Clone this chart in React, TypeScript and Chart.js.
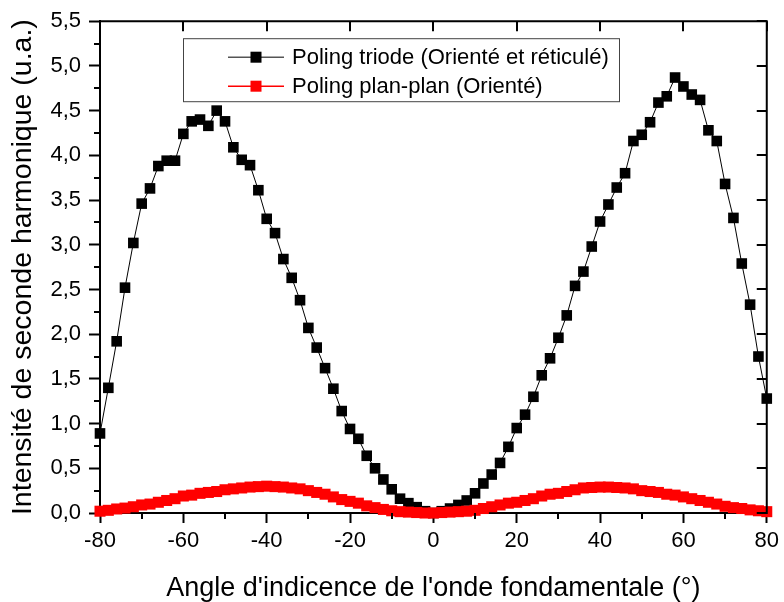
import React, { useEffect, useRef } from 'react';
import { Chart, registerables } from 'chart.js';

Chart.register(...registerables);

const angles = [
  -80, -78, -76, -74, -72, -70, -68, -66, -64, -62, -60, -58, -56, -54, -52, -50, -48, -46, -44, -42,
  -40, -38, -36, -34, -32, -30, -28, -26, -24, -22, -20, -18, -16, -14, -12, -10, -8, -6, -4, -2,
  0, 2, 4, 6, 8, 10, 12, 14, 16, 18, 20, 22, 24, 26, 28, 30, 32, 34, 36, 38,
  40, 42, 44, 46, 48, 50, 52, 54, 56, 58, 60, 62, 64, 66, 68, 70, 72, 74, 76, 78, 80,
];

const triodeValues = [
  0.89, 1.40, 1.92, 2.52, 3.02, 3.46, 3.63, 3.88, 3.94, 3.94, 4.24, 4.38, 4.40, 4.33, 4.50, 4.38, 4.09, 3.95, 3.89, 3.61,
  3.29, 3.13, 2.84, 2.63, 2.38, 2.07, 1.85, 1.62, 1.39, 1.14, 0.94, 0.83, 0.64, 0.50, 0.375, 0.265, 0.16, 0.11, 0.065, 0.02,
  0.0, 0.02, 0.05, 0.09, 0.14, 0.22, 0.33, 0.43, 0.56, 0.74, 0.95, 1.10, 1.30, 1.54, 1.73, 1.96, 2.21, 2.54, 2.70, 2.98,
  3.26, 3.45, 3.64, 3.80, 4.16, 4.23, 4.37, 4.59, 4.66, 4.87, 4.77, 4.68, 4.62, 4.28, 4.16, 3.68, 3.30, 2.79, 2.33, 1.75, 1.28,
];

const planValues = [
  0.02, 0.03, 0.045, 0.055, 0.07, 0.09, 0.10, 0.12, 0.14, 0.16, 0.19, 0.20, 0.22, 0.23, 0.24, 0.26, 0.27, 0.28, 0.29, 0.295,
  0.30, 0.295, 0.29, 0.28, 0.27, 0.25, 0.23, 0.21, 0.18, 0.15, 0.13, 0.11, 0.08, 0.06, 0.04, 0.025, 0.015, 0.01, 0.005, 0.0,
  0.0, 0.005, 0.01, 0.015, 0.02, 0.03, 0.05, 0.07, 0.09, 0.11, 0.12, 0.14, 0.16, 0.19, 0.21, 0.22, 0.24, 0.26, 0.28, 0.285,
  0.29, 0.29, 0.285, 0.28, 0.27, 0.25, 0.24, 0.23, 0.21, 0.20, 0.18, 0.16, 0.14, 0.12, 0.10, 0.075, 0.06, 0.05, 0.035, 0.025, 0.015,
];

const seriesLabels = ['Poling triode (Orienté et réticulé)', 'Poling plan-plan (Orienté)'];
const xTitle = "Angle d'indicence de l'onde fondamentale (°)";
const yTitle = 'Intensité de seconde harmonique (u.a.)';

const FONT = "'Liberation Sans', Arial, sans-serif";

const framePlugin = {
  id: 'frameAndLegend',
  afterDraw(chart: any) {
    const { ctx, chartArea } = chart;
    const xs = chart.scales.x;
    const ys = chart.scales.y;
    ctx.save();
    ctx.strokeStyle = '#000';
    ctx.lineWidth = 2;
    // top & right frame lines
    ctx.beginPath();
    ctx.moveTo(chartArea.left - 1, chartArea.top);
    ctx.lineTo(chartArea.right + 1, chartArea.top);
    ctx.moveTo(chartArea.right, chartArea.top);
    ctx.lineTo(chartArea.right, chartArea.bottom + 1);
    ctx.stroke();
    // top inward ticks
    ctx.beginPath();
    for (let v = -80; v <= 80; v += 20) {
      const px = Math.round(xs.getPixelForValue(v));
      ctx.moveTo(px, chartArea.top);
      ctx.lineTo(px, chartArea.top + 10);
    }
    // right inward ticks
    for (let v = 0; v <= 5.5001; v += 0.5) {
      const py = Math.round(ys.getPixelForValue(v));
      ctx.moveTo(chartArea.right, py);
      ctx.lineTo(chartArea.right - 10, py);
    }
    // bottom minor ticks (outward)
    for (let v = -70; v <= 70; v += 20) {
      const px = Math.round(xs.getPixelForValue(v));
      ctx.moveTo(px, chartArea.bottom);
      ctx.lineTo(px, chartArea.bottom + 6);
    }
    // left minor ticks (outward)
    for (let v = 0.25; v < 5.5; v += 0.5) {
      const py = Math.round(ys.getPixelForValue(v));
      ctx.moveTo(chartArea.left, py);
      ctx.lineTo(chartArea.left - 6, py);
    }
    ctx.stroke();

    // legend box
    const bx = chartArea.left + 83;
    const by = chartArea.top + 17;
    const bw = 436;
    const bh = 63;
    ctx.fillStyle = '#fff';
    ctx.fillRect(bx, by, bw, bh);
    ctx.strokeStyle = '#444';
    ctx.lineWidth = 1;
    ctx.strokeRect(bx + 0.5, by + 0.5, bw, bh);
    const rows = [
      { y: by + 19, ds: chart.data.datasets[0], lineColor: '#555' },
      { y: by + 48, ds: chart.data.datasets[1], lineColor: '#ff0000' },
    ];
    ctx.font = `22px ${FONT}`;
    ctx.textBaseline = 'middle';
    ctx.textAlign = 'left';
    for (const r of rows) {
      ctx.strokeStyle = r.lineColor;
      ctx.lineWidth = 1.5;
      ctx.beginPath();
      ctx.moveTo(bx + 45, r.y);
      ctx.lineTo(bx + 101, r.y);
      ctx.stroke();
      ctx.fillStyle = r.ds.pointBackgroundColor;
      ctx.fillRect(bx + 73 - 5.5, r.y - 5.5, 11, 11);
      ctx.fillStyle = '#000';
      ctx.fillText(r.ds.label, bx + 109, r.y + 1);
    }
    ctx.restore();
  },
};

export default function App() {
  const canvasRef = useRef<HTMLCanvasElement | null>(null);

  useEffect(() => {
    if (!canvasRef.current) return;
    const chart = new Chart(canvasRef.current, {
      type: 'line',
      data: {
        datasets: [
          {
            label: seriesLabels[0],
            data: angles.map((a, i) => ({ x: a, y: triodeValues[i] })),
            borderColor: '#000',
            borderWidth: 1,
            pointStyle: 'rect',
            pointRadius: 7.5,
            pointBackgroundColor: '#000',
            pointBorderWidth: 0,
            tension: 0,
            clip: false,
            order: 2,
          },
          {
            label: seriesLabels[1],
            data: angles.map((a, i) => ({ x: a, y: planValues[i] })),
            borderColor: '#ff0000',
            borderWidth: 1,
            pointStyle: 'rect',
            pointRadius: 7.8,
            pointBackgroundColor: '#ff0000',
            pointBorderWidth: 0,
            tension: 0,
            clip: false,
            order: 1,
          },
        ] as any,
      },
      options: {
        responsive: false,
        animation: false,
        events: [],
        layout: { padding: { left: 0, right: 13, top: 15, bottom: 0 } },
        plugins: {
          legend: { display: false },
          tooltip: { enabled: false },
        },
        scales: {
          x: {
            type: 'linear',
            min: -80,
            max: 80,
            afterFit: (s: any) => { s.height = 89; },
            ticks: {
              stepSize: 20,
              color: '#000',
              padding: 5,
              font: { family: FONT, size: 22 },
              maxRotation: 0,
            },
            grid: {
              drawOnChartArea: false,
              drawTicks: true,
              tickLength: 10,
              tickWidth: 2,
              tickColor: '#000',
            },
            border: { display: true, color: '#000', width: 2 },
            title: {
              display: true,
              text: xTitle,
              color: '#000',
              font: { family: FONT, size: 27 },
              padding: { top: 0, bottom: -3 },
            },
          },
          y: {
            type: 'linear',
            min: 0,
            max: 5.5,
            afterFit: (s: any) => { s.width = 100; },
            ticks: {
              stepSize: 0.5,
              color: '#000',
              padding: 8,
              font: { family: FONT, size: 22 },
              callback: (v: any) => Number(v).toFixed(1).replace('.', ','),
            },
            grid: {
              drawOnChartArea: false,
              drawTicks: true,
              tickLength: 11,
              tickWidth: 2,
              tickColor: '#000',
            },
            border: { display: true, color: '#000', width: 2 },
            title: {
              display: true,
              text: yTitle,
              color: '#000',
              font: { family: FONT, size: 28.5 },
              padding: { top: 6, bottom: 0 },
            },
          },
        },
      } as any,
      plugins: [framePlugin],
    });
    return () => chart.destroy();
  }, []);

  return (
    <div style={{ position: 'absolute', left: 0, top: 0, width: 784, height: 602, background: '#fff' }}>
      <canvas ref={canvasRef} width={784} height={602} style={{ display: 'block' }} />
    </div>
  );
}
